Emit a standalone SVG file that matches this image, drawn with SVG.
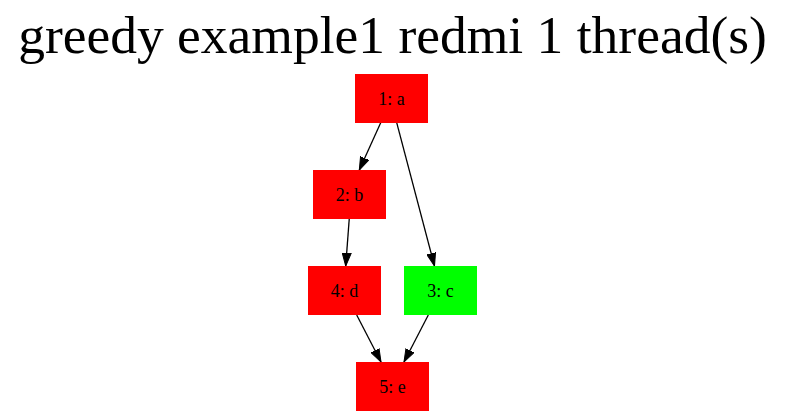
<svg xmlns="http://www.w3.org/2000/svg" width="785" height="416" viewBox="0 0 785 416">
<style>
.title{font-family:"Liberation Serif",serif;font-size:53.5px;fill:#000}
.lbl{font-family:"Liberation Serif",serif;font-size:18px;fill:#000;text-anchor:middle}
.red{fill:#ff0000;stroke:#ff0000}
.green{fill:#00ff00;stroke:#00ff00}
.edge{stroke:#000;stroke-width:1.3;fill:none;marker-end:url(#arr)}
</style>
<defs>
<marker id="arr" markerWidth="13" markerHeight="10" refX="13" refY="5" orient="auto" markerUnits="userSpaceOnUse">
<path d="M0,0.5 L13,5 L0,9.5 Z" fill="#000" stroke="#000" stroke-width="1"/>
</marker>
</defs>
<rect width="785" height="416" fill="#fff"/>
<text class="title" x="392.5" y="53" text-anchor="middle">greedy example1 redmi 1 thread(s)</text>
<g id="connectors">
<line class="edge" x1="380.7" y1="122.7" x2="359.3" y2="170"/>
<line class="edge" x1="396.7" y1="122.7" x2="434.5" y2="266"/>
<line class="edge" x1="349.3" y1="218" x2="345.7" y2="266"/>
<line class="edge" x1="356.7" y1="315" x2="381" y2="362"/>
<line class="edge" x1="428.3" y1="315" x2="404" y2="362"/>
</g>
<g id="node1"><rect class="red" x="355.5" y="74.5" width="72" height="48"/><text class="lbl" x="391.5" y="104.5">1: a</text></g>
<g id="node2"><rect class="red" x="313.5" y="170.5" width="72" height="48"/><text class="lbl" x="349.5" y="200.5">2: b</text></g>
<g id="node4"><rect class="red" x="308.5" y="266.5" width="72" height="48"/><text class="lbl" x="344.5" y="296.5">4: d</text></g>
<g id="node3"><rect class="green" x="404.5" y="266.5" width="72" height="48"/><text class="lbl" x="440.5" y="296.5">3: c</text></g>
<g id="node5"><rect class="red" x="356.5" y="362.5" width="72" height="48"/><text class="lbl" x="392.5" y="392.5">5: e</text></g>
</svg>
